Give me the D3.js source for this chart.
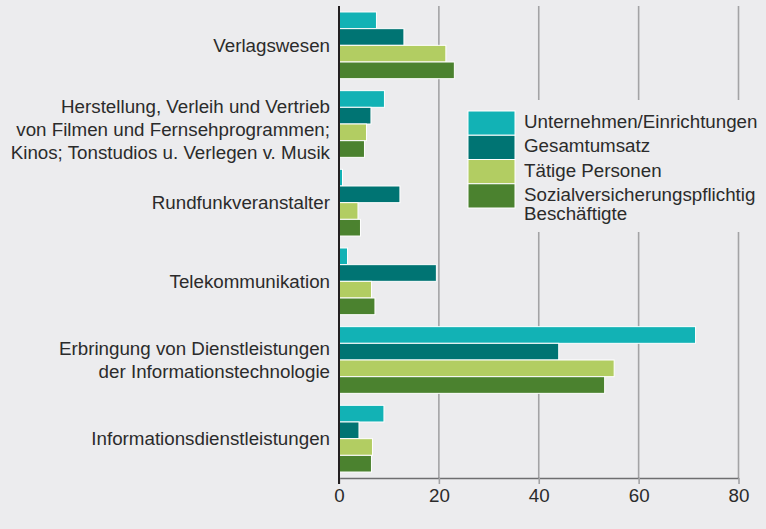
<!DOCTYPE html>
<html>
<head>
<meta charset="utf-8">
<script src="https://cdn.jsdelivr.net/npm/d3@7"></script>
<style>
  body { margin: 0; background: #ececee; }
  svg { display: block; font-family: "Liberation Sans", Arial, Helvetica, sans-serif; }
</style>
</head>
<body>
<svg id="canvas"></svg>
<script>
// categories (each one split in its label lines)
let categories = [
    ["Verlagswesen"],
    ["Herstellung, Verleih und Vertrieb", "von Filmen und Fernsehprogrammen;", "Kinos; Tonstudios u. Verlegen v. Musik"],
    ["Rundfunkveranstalter"],
    ["Telekommunikation"],
    ["Erbringung von Dienstleistungen", "der Informationstechnologie"],
    ["Informationsdienstleistungen"]
]
let seriesNames = [
    ["Unternehmen/Einrichtungen"],
    ["Gesamtumsatz"],
    ["Tätige Personen"],
    ["Sozialversicherungspflichtig", "Beschäftigte"]
]
let unternehmen = [7.5, 9.1, 0.7, 1.7, 71.4, 9.0]
let gesamtumsatz = [13.0, 6.4, 12.2, 19.5, 44.0, 4.0]
let taetigePersonen = [21.4, 5.5, 3.8, 6.5, 55.1, 6.7]
let sozialBeschaeftigte = [23.1, 5.1, 4.3, 7.2, 53.2, 6.5]
let xTicks = [0, 20, 40, 60, 80]

let colors = ["#12b2b5", "#007473", "#b2cd62", "#4b822f"]
let seriesValues = [unternehmen, gesamtumsatz, taetigePersonen, sozialBeschaeftigte]

let width = 766
let height = 529
let plotLeft = 339
let plotRight = 738.5
let plotTop = 6
let plotBottom = 478
let fontSize = 18.75

let canvas = d3.select("#canvas")
    .attr("width", width)
    .attr("height", height)

let keys = categories.map((c, i) => "c" + i)
let seriesKeys = seriesNames.map((s, i) => "s" + i)

let xScale = d3.scaleLinear()
    .domain([0, 80])
    .range([plotLeft, plotRight])

let yScale = d3.scaleBand()
    .domain(keys)
    .range([plotTop, plotBottom])
    .paddingInner(0.152)
    .paddingOuter(0.076)

let subScale = d3.scaleBand()
    .domain(seriesKeys)
    .range([0, yScale.bandwidth()])

// grid lines
canvas.append("g")
    .selectAll("line")
    .data(xTicks.slice(1))
    .enter()
    .append("line")
    .attr("x1", d => xScale(d))
    .attr("x2", d => xScale(d))
    .attr("y1", plotTop)
    .attr("y2", plotBottom)
    .attr("stroke", "#a3a3a5")
    .attr("stroke-width", 1.6)

// bars
let rows = []
categories.forEach((c, i) => {
    seriesValues.forEach((vals, j) => {
        rows.push({ cat: keys[i], ser: seriesKeys[j], value: vals[i], color: colors[j] })
    })
})

canvas.append("g")
    .selectAll("rect")
    .data(rows)
    .enter()
    .append("rect")
    .attr("x", xScale(0))
    .attr("y", d => yScale(d.cat) + subScale(d.ser))
    .attr("width", d => xScale(d.value) - xScale(0))
    .attr("height", subScale.bandwidth())
    .attr("fill", d => d.color)
    .attr("stroke", "#ffffff")
    .attr("stroke-width", 1)

// x axis
let xAxis = d3.axisBottom(xScale)
    .tickValues(xTicks)
    .tickSize(6)
    .tickPadding(5)
    .tickSizeOuter(0)

let axisG = canvas.append("g")
    .attr("transform", "translate(0," + plotBottom + ")")
    .call(xAxis)

axisG.select(".domain").attr("stroke", "#6e6e70").attr("stroke-width", 1.6)
axisG.selectAll(".tick line").attr("stroke", "#a3a3a5").attr("stroke-width", 1.6)
axisG.selectAll(".tick text")
    .attr("fill", "#2b2b2b")
    .style("font-size", fontSize + "px")
    .style("font-family", "'Liberation Sans', Arial, sans-serif")

// y axis line
canvas.append("line")
    .attr("x1", plotLeft)
    .attr("x2", plotLeft)
    .attr("y1", plotTop)
    .attr("y2", plotBottom + 6)
    .attr("stroke", "#231f20")
    .attr("stroke-width", 2)

// category labels
let lineH = 23
let labels = canvas.append("g")
    .selectAll("text")
    .data(categories)
    .enter()
    .append("text")
    .attr("text-anchor", "end")
    .attr("fill", "#2b2b2b")
    .style("font-size", fontSize + "px")
    .attr("transform", (c, i) => {
        let cy = yScale(keys[i]) + yScale.bandwidth() / 2
        let y0 = cy - (c.length - 1) * lineH / 2 + 6.5
        if (c.length > 2) y0 += 5
        return "translate(330," + y0 + ")"
    })

labels.selectAll("tspan")
    .data(c => c)
    .enter()
    .append("tspan")
    .attr("x", 0)
    .attr("y", (d, i) => i * lineH)
    .text(d => d)

// legend
let legend = canvas.append("g")

legend.append("rect")
    .attr("x", 460)
    .attr("y", 100)
    .attr("width", 304)
    .attr("height", 132)
    .attr("fill", "#ececee")

let legendScale = d3.scaleBand()
    .domain(seriesKeys)
    .range([111, 208])

legend.selectAll(".swatch")
    .data(seriesKeys)
    .enter()
    .append("rect")
    .attr("class", "swatch")
    .attr("x", 468)
    .attr("y", d => legendScale(d))
    .attr("width", 47)
    .attr("height", legendScale.bandwidth())
    .attr("fill", (d, i) => colors[i])
    .attr("stroke", "#ffffff")
    .attr("stroke-width", 1)

let legendText = legend.selectAll(".ltext")
    .data(seriesNames)
    .enter()
    .append("text")
    .attr("class", "ltext")
    .attr("fill", "#2b2b2b")
    .style("font-size", fontSize + "px")
    .attr("transform", (d, i) => "translate(524," + (legendScale(seriesKeys[i]) + legendScale.bandwidth() / 2 + 5) + ")")

legendText.selectAll("tspan")
    .data(d => d)
    .enter()
    .append("tspan")
    .attr("x", 0)
    .attr("y", (d, i) => i * 19.5)
    .text(d => d)
</script>
</body>
</html>
